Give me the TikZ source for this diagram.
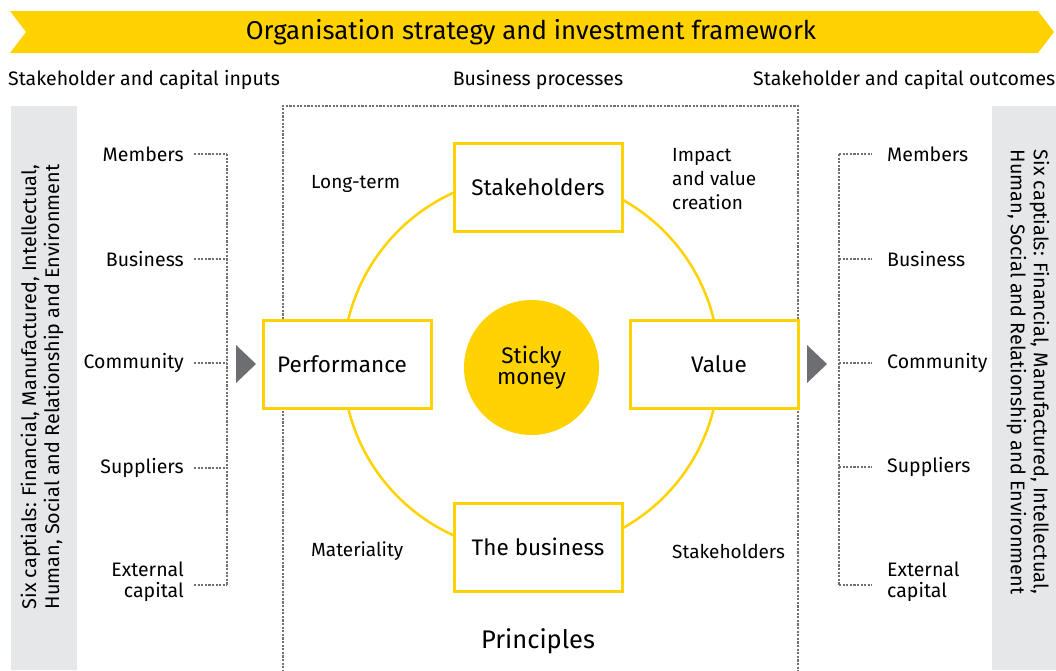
\documentclass[tikz,border=0pt]{standalone}
\usepackage{fontspec}
\setmainfont{Fira Sans}
\definecolor{eyyellow}{HTML}{FFD200}
\definecolor{panelgray}{HTML}{E6E7E8}
\definecolor{dotgray}{HTML}{6F7073}
\definecolor{arrowgray}{HTML}{6D6E71}
\begin{document}
\begin{tikzpicture}[x=1pt,y=-1pt,
  lbl/.style={font=\fontsize{19.5}{21}\selectfont, inner sep=0pt},
  hdr/.style={font=\fontsize{19.5}{22}\selectfont, inner sep=0pt},
  cornertxt/.style={font=\fontsize{19}{24}\selectfont, inner sep=0pt, align=left},
  stepbox/.style={draw=eyyellow, line width=3pt, fill=white, minimum width=168pt, minimum height=88pt, inner sep=0pt, font=\fontsize{22.5}{25}\selectfont},
  dotline/.style={draw=dotgray, line width=2.8pt, dash pattern=on 2.2pt off 1.4pt},
  sidetxt/.style={font=\fontsize{19.8}{23}\selectfont, inner sep=0pt, align=left},
  tri/.style={fill=arrowgray}
]
\useasboundingbox (0,0) rectangle (1056,670);

% banner
\fill[eyyellow] (10,11) -- (1038,11) -- (1054,32) -- (1038,53) -- (10,53) -- (26,32) -- cycle;
\node[font=\fontsize{25.8}{28}\selectfont, inner sep=0pt] (title) at (531,32) {Organisation strategy and investment framework};

% headers
\node[hdr, anchor=west] (hin) at (8,80) {Stakeholder and capital inputs};
\node[hdr] (hproc) at (538,80) {Business processes};
\node[hdr, anchor=west] (hout) at (753,80) {Stakeholder and capital outcomes};

% side panels
\fill[panelgray] (11,106) rectangle (77,670);
\fill[panelgray] (992,106) rectangle (1056,670);
\node[sidetxt, rotate=90] (sideL) at (42,387) {Six captials: Financial, Manufactured, Intellectual,\\Human, Social and Relationship and Environment};
\node[sidetxt, rotate=-90] (sideR) at (1028,372) {Six captials: Financial, Manufactured, Intellectual,\\Human, Social and Relationship and Environment};

% business process frame
\draw[dotline] (283,672) -- (283,106) -- (798,106) -- (798,672);

% left labels
\node[lbl, anchor=east] (lm) at (184,154) {Members};
\node[lbl, anchor=east] (lb) at (184,259) {Business};
\node[lbl, anchor=east] (lc) at (184,363) {Community};
\node[lbl, anchor=east] (ls) at (184,468) {Suppliers};
\node[lbl, anchor=east, align=right] (le) at (184,582) {External\\capital};
\coordinate (lmB) at (227,154);
\coordinate (lbB) at (227,259);
\coordinate (lcB) at (227,363);
\coordinate (lsB) at (227,468);
\coordinate (leB) at (227,585);
\draw[dotline] ([xshift=10pt]lm.east) -- (lmB);
\draw[dotline] ([xshift=10pt]lb.east) -- (lbB);
\draw[dotline] ([xshift=10pt]lc.east) -- (lcB);
\draw[dotline] ([xshift=10pt]ls.east) -- (lsB);
\draw[dotline] (194,585) -- (leB);
\draw[dotline] (lmB) -- (leB);

% right labels
\node[lbl, anchor=west] (rm) at (887,154) {Members};
\node[lbl, anchor=west] (rb) at (887,259) {Business};
\node[lbl, anchor=west] (rc) at (887,363) {Community};
\node[lbl, anchor=west] (rs) at (887,467) {Suppliers};
\node[lbl, anchor=west, align=left] (re) at (887,582) {External\\capital};
\coordinate (rmB) at (839,154);
\coordinate (rbB) at (839,259);
\coordinate (rcB) at (839,363);
\coordinate (rsB) at (839,467);
\coordinate (reB) at (839,585);
\draw[dotline] (rmB) -- ([xshift=-15pt]rm.west);
\draw[dotline] (rbB) -- ([xshift=-15pt]rb.west);
\draw[dotline] (rcB) -- ([xshift=-15pt]rc.west);
\draw[dotline] (rsB) -- ([xshift=-15pt]rs.west);
\draw[dotline] (reB) -- (872,585);
\draw[dotline] (rmB) -- (reB);

% arrows
\fill[tri] (236,345) -- (256,364) -- (236,383) -- cycle;
\fill[tri] (807,345) -- (827,364) -- (807,383) -- cycle;

% ring
\coordinate (ctr) at (531,364);
\draw[eyyellow, line width=2.5pt] (ctr) circle[radius=188];

% boxes
\node[stepbox] (stake) at (538,187.5) {Stakeholders};
\node[stepbox] (perf) at (347,364.5) {\hspace*{-10pt}Performance};
\node[stepbox] (val) at (714,364.5) {\hspace*{10pt}Value};
\node[stepbox] (biz) at (538,547) {The business};

% centre
\node[circle, fill=eyyellow, minimum size=135pt, inner sep=0pt, align=center, font=\fontsize{22.5}{21}\selectfont] (sticky) at (531.5,367.5) {Sticky\\money};

% corner texts
\node[cornertxt, anchor=west] (lt) at (311,184) {Long-term};
\node[cornertxt, anchor=west] (imp) at (672,179) {Impact\\and value\\creation};
\node[cornertxt, anchor=west] (mat) at (311,551) {Materiality};
\node[cornertxt, anchor=west] (stk2) at (672,551) {Stakeholders};
\node[font=\fontsize{25.5}{28}\selectfont, inner sep=0pt] (princ) at (538,641) {Principles};
\end{tikzpicture}
\end{document}
